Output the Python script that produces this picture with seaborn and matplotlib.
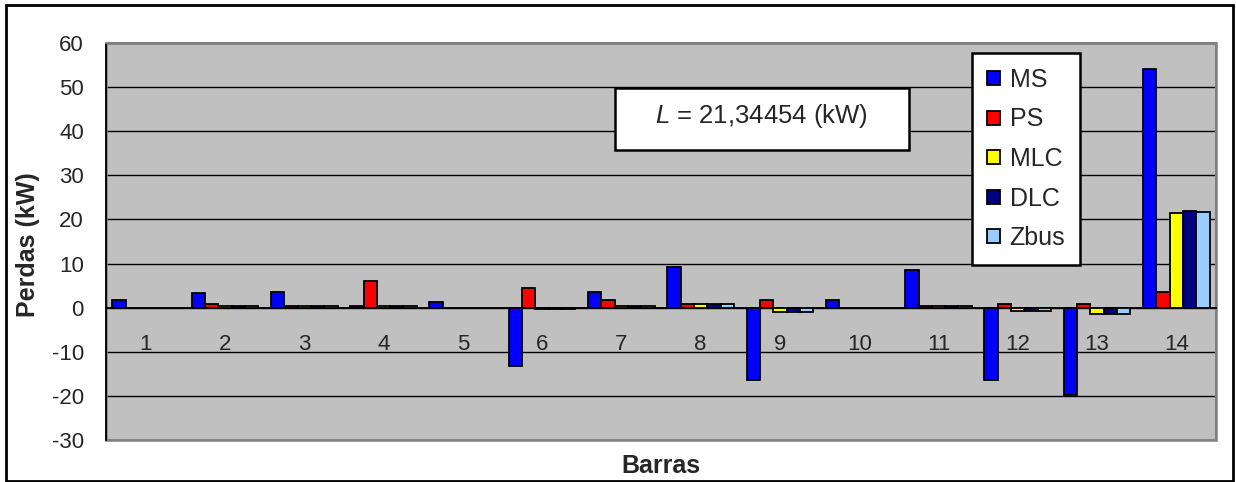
import numpy as np
import pandas as pd
import matplotlib
matplotlib.use("Agg")
import matplotlib.pyplot as plt
from matplotlib.patches import Patch, Rectangle
import seaborn as sns

# Power losses per bus (kW) for each allocation method
barras = [str(i) for i in range(1, 15)]
nan = np.nan
ms   = [1.65, 3.25, 3.6, 0.3, 1.2, -13.2, 3.5, 9.3, -16.4, 1.65, 8.5, -16.4, -19.8, 54.0]
ps   = [nan, 0.9, 0.3, 6.0, nan, 4.5, 1.65, 0.8, 1.65, nan, 0.3, 0.8, 0.8, 3.5]
mlc  = [nan, 0.3, 0.3, 0.3, nan, -0.4, 0.3, 0.8, -0.9, nan, 0.3, -0.8, -1.4, 21.5]
dlc  = [nan, 0.3, 0.3, 0.3, nan, -0.4, 0.3, 0.8, -0.9, nan, 0.3, -0.8, -1.4, 21.9]
zbus = [nan, 0.3, 0.3, 0.3, nan, -0.4, 0.3, 0.8, -0.9, nan, 0.3, -0.8, -1.4, 21.6]

metodos = ["MS", "PS", "MLC", "DLC", "Zbus"]
cores = ["#0000FF", "#FF0000", "#FFFF00", "#000080", "#99CCFF"]
yticks = [-30, -20, -10, 0, 10, 20, 30, 40, 50, 60]

series = dict(zip(metodos, [ms, ps, mlc, dlc, zbus]))
df = pd.DataFrame(
    [(b, m, v) for m in metodos for b, v in zip(barras, series[m])],
    columns=["Barra", "Metodo", "Perdas"],
)

sns.set_style("white")
plt.rcParams["font.family"] = ["Liberation Sans", "DejaVu Sans"]
plt.rcParams["mathtext.fontset"] = "custom"
plt.rcParams["mathtext.rm"] = "Liberation Sans"
plt.rcParams["mathtext.it"] = "Liberation Sans:italic"

W, H = 1236, 482
fig = plt.figure(figsize=(W / 100, H / 100), dpi=100)
fig.patch.set_facecolor("white")
ax = fig.add_axes([106 / W, 1 - 440 / H, (1216 - 106) / W, (440 - 43) / H])
ax.set_facecolor("#C0C0C0")

sns.barplot(
    data=df, x="Barra", y="Perdas", hue="Metodo", order=barras,
    hue_order=metodos, palette=cores, saturation=1, edgecolor="black",
    linewidth=1.3, width=0.84, gap=0, errorbar=None, legend=False, ax=ax,
    zorder=3,
)

ax.set_xlim(-0.5, len(barras) - 0.5)
ax.set_ylim(-30, 60)
ax.set_yticks(yticks)
ax.set_yticklabels([str(t) for t in yticks])
ax.yaxis.grid(True, color="black", linewidth=1.0, zorder=0)
ax.set_axisbelow(True)

# x axis sits on the zero line; category ticks at the boundaries
for s in ["top", "right"]:
    ax.spines[s].set_color("#808080")
    ax.spines[s].set_linewidth(1.5)
ax.spines["bottom"].set_position(("data", 0))
ax.spines["bottom"].set_color("black")
ax.spines["bottom"].set_linewidth(1.3)
ax.spines["left"].set_color("black")
ax.spines["left"].set_linewidth(1.3)
ax.add_patch(Rectangle((0, 0), 1, 1, transform=ax.transAxes, fill=False,
                       edgecolor="#808080", linewidth=1.8, clip_on=False, zorder=1))

ax.tick_params(axis="x", which="major", length=0, pad=19, labelsize=16)
ax.set_xticks(np.arange(-0.5, len(barras), 1.0), minor=True)
ax.tick_params(axis="x", which="minor", length=5, width=1, color="#404040", direction="out")
ax.tick_params(axis="y", length=4, width=1, color="black", direction="out",
               labelsize=16, pad=12)
ax.set_xlabel("")
ax.set_ylabel("")

fig.text(661 / W, 1 - 466 / H, "Barras", ha="center", va="center",
         fontsize=18, fontweight="bold")
fig.text(28 / W, 1 - 245 / H, "Perdas (kW)", ha="center", va="center",
         rotation=90, fontsize=18, fontweight="bold")

# annotation box
fig.add_artist(Rectangle((615 / W, 1 - 150 / H), 294 / W, 62 / H,
                         transform=fig.transFigure, facecolor="white",
                         edgecolor="black", linewidth=1.8, zorder=5))
fig.text(761 / W, 1 - 123 / H, "$L$ = 21,34454 (kW)", ha="center",
         va="baseline", fontsize=18.5, zorder=6)

# legend
handles = [Patch(facecolor=c, edgecolor="black", linewidth=1.3) for c in cores]
leg = ax.legend(handles, metodos, loc="upper left",
                bbox_to_anchor=(972 / W, 1 - 53 / H), bbox_transform=fig.transFigure,
                borderaxespad=0, fontsize=18, handlelength=0.5, handleheight=0.5,
                handletextpad=0.4, labelspacing=0.62, borderpad=0.6,
                frameon=True, fancybox=False, framealpha=1, edgecolor="black")
leg.get_frame().set_linewidth(1.8)
leg.set_zorder(6)

# outer frame
fig.add_artist(Rectangle((6 / W, 1.5 / H), (1233 - 6) / W, (477 - 1.5) / H,
                         transform=fig.transFigure, fill=False,
                         edgecolor="black", linewidth=2))

fig.savefig("out.png", dpi=100, facecolor="white")
